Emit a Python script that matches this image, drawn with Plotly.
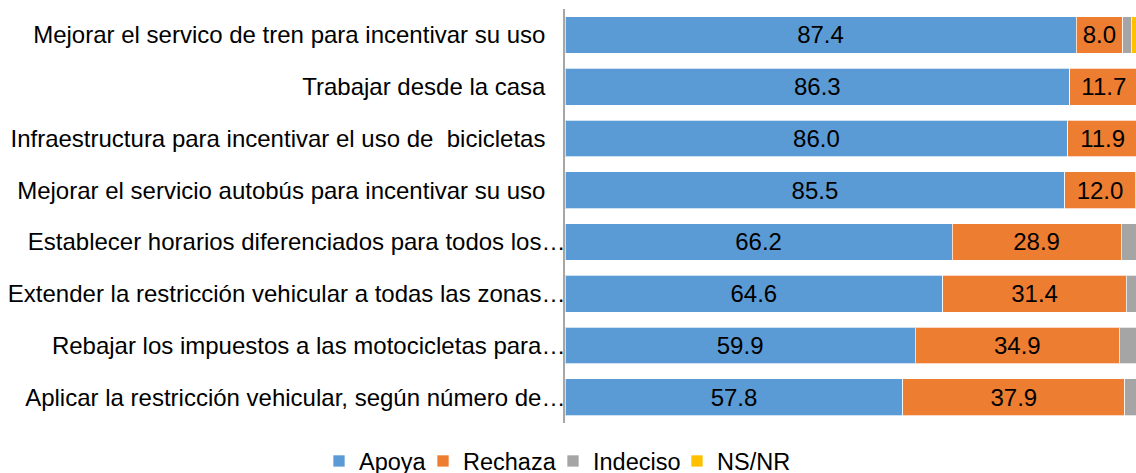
import plotly.graph_objects as go

NB = "\u00a0\u00a0\u00a0"  # trailing pad so that untruncated labels end left of the ellipsis ones
categories = [
    "Mejorar el servico de tren para incentivar su uso" + NB,
    "Trabajar desde la casa" + NB,
    "Infraestructura para incentivar el uso de  bicicletas" + NB,
    "Mejorar el servicio autobús para incentivar su uso" + NB,
    "Establecer horarios diferenciados para todos los…",
    "Extender la restricción vehicular a todas las zonas…",
    "Rebajar los impuestos a las motocicletas para…",
    "Aplicar la restricción vehicular, según número de…",
]
apoya = [87.4, 86.3, 86.0, 85.5, 66.2, 64.6, 59.9, 57.8]
rechaza = [8.0, 11.7, 11.9, 12.0, 28.9, 31.4, 34.9, 37.9]
indeciso = [1.4, 1.2, 1.3, 1.6, 3.9, 2.9, 3.6, 2.9]
nsnr = [3.2, 0.8, 0.8, 0.9, 1.0, 1.1, 1.6, 1.4]

series_names = ["Apoya", "Rechaza", "Indeciso", "NS/NR"]
series_values = [apoya, rechaza, indeciso, nsnr]
series_colors = ["#5B9BD5", "#ED7D31", "#A5A5A5", "#FFC000"]
series_labeled = [True, True, False, False]
legend_text_x = [368, 472, 602, 726]  # px anchor for each legend entry

FONT = "Liberation Sans, Arial"
W, H = 1136, 473

fig = go.Figure()
legend_layout = {}
for i, (name, vals, color, lab) in enumerate(
        zip(series_names, series_values, series_colors, series_labeled)):
    lg = "legend" if i == 0 else f"legend{i + 1}"
    fig.add_trace(go.Bar(
        y=categories, x=vals, name=name, orientation="h",
        marker=dict(color=color, line=dict(color="rgba(255,255,255,0.7)", width=1)),
        text=[f"{v:.1f}" for v in vals] if lab else None,
        textposition="inside" if lab else "none",
        insidetextanchor="middle",
        textfont=dict(family=FONT, size=24, color="black"),
        constraintext="none",
        hoverinfo="x+name",
        legend=lg,
        showlegend=True,
    ))
    legend_layout[lg] = dict(
        orientation="h", xref="container", yref="container",
        x=(legend_text_x[i] - 49) / W, xanchor="left", y=0.025, yanchor="middle",
        font=dict(size=23.5, family=FONT, color="black"),
        itemwidth=30, bgcolor="rgba(0,0,0,0)", visible=True,
    )

fig.update_layout(
    showlegend=True,
    barmode="stack",
    bargap=0.29,
    width=W, height=H,
    margin=dict(l=565, r=0, t=9, b=50, autoexpand=False),
    plot_bgcolor="white", paper_bgcolor="white",
    font=dict(family=FONT, size=24, color="black"),
    xaxis=dict(range=[0, 97.65], showgrid=False, showticklabels=False, zeroline=False,
               fixedrange=True, automargin=False),
    yaxis=dict(autorange="reversed", showline=True, linecolor="#A6A6A6", linewidth=1.5,
               ticks="", ticklabelstandoff=-7, tickfont=dict(size=24), automargin=False),
    **legend_layout,
)

fig.write_html(
    "out.html",
    config={"displayModeBar": False},
    post_script="document.body.style.margin='0';document.body.style.overflow='hidden';",
)
